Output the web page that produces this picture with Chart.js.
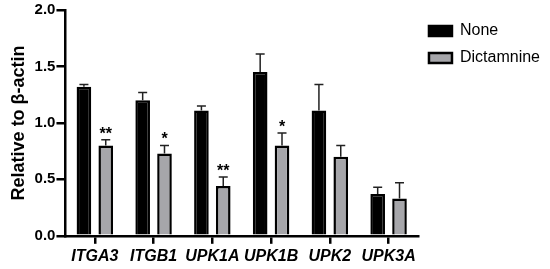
<!DOCTYPE html>
<html>
<head>
<meta charset="utf-8">
<script src="https://cdn.jsdelivr.net/npm/chart.js@4.4.0/dist/chart.umd.min.js"></script>
<style>
  html, body { margin: 0; padding: 0; background: #fff; }
  #wrap { width: 550px; height: 269px; }
</style>
</head>
<body>
<div id="wrap"><canvas id="geneChart"></canvas></div>
<script>
const genes = ['ITGA3', 'ITGB1', 'UPK1A', 'UPK1B', 'UPK2', 'UPK3A'];
const noneMean = [1.32, 1.20, 1.11, 1.45, 1.11, 0.37];
const noneErr = [0.02, 0.07, 0.04, 0.16, 0.23, 0.06];
const dictMean = [0.80, 0.73, 0.44, 0.80, 0.70, 0.33];
const dictErr = [0.05, 0.07, 0.08, 0.11, 0.10, 0.14];
const dictStars = ['**', '*', '**', '*', '', ''];
const yTicks = [0, 0.5, 1.0, 1.5, 2.0];

Chart.defaults.font.family = 'Arial, "Liberation Sans", sans-serif';
Chart.defaults.color = '#000';

// error bars (upward only) plus significance stars
const errorBars = {
    id: 'errorBars',
    afterDatasetsDraw(chart) {
        const ctx = chart.ctx;
        const yScale = chart.scales.y;
        chart.data.datasets.forEach((ds, di) => {
            const meta = chart.getDatasetMeta(di);
            meta.data.forEach((bar, i) => {
                const top = yScale.getPixelForValue(ds.data[i] + ds.errors[i]);
                ctx.save();
                ctx.strokeStyle = '#222';
                ctx.lineWidth = 1.5;
                ctx.beginPath();
                ctx.moveTo(bar.x, bar.y);
                ctx.lineTo(bar.x, top);
                ctx.moveTo(bar.x - 4.5, top);
                ctx.lineTo(bar.x + 4.5, top);
                ctx.stroke();
                if (ds.stars && ds.stars[i]) {
                    ctx.fillStyle = '#000';
                    ctx.font = 'bold 16px Arial, "Liberation Sans", sans-serif';
                    ctx.textAlign = 'center';
                    ctx.textBaseline = 'alphabetic';
                    ctx.fillText(ds.stars[i], bar.x, top - 1);
                }
                ctx.restore();
            });
        });
    }
};

new Chart(document.getElementById('geneChart'), {
    type: 'bar',
    data: {
        labels: genes,
        datasets: [
            {
                label: 'None',
                data: noneMean,
                errors: noneErr,
                backgroundColor: '#000',
                borderColor: '#000',
                borderWidth: 2.5,
                categoryPercentage: 0.743,
                barPercentage: 0.67
            },
            {
                label: 'Dictamnine',
                data: dictMean,
                errors: dictErr,
                stars: dictStars,
                backgroundColor: '#a6a6aa',
                borderColor: '#000',
                borderWidth: 2.5,
                categoryPercentage: 0.743,
                barPercentage: 0.67
            }
        ]
    },
    options: {
        responsive: true,
        maintainAspectRatio: false,
        animation: false,
        layout: { padding: { left: 4, top: 6, right: 0, bottom: 0 } },
        scales: {
            x: {
                grid: {
                    offset: false,
                    drawOnChartArea: false,
                    color: '#000',
                    lineWidth: 2.5,
                    tickLength: 8
                },
                border: { color: '#000', width: 2.5 },
                ticks: {
                    padding: 3,
                    maxRotation: 0,
                    font: { size: 16, weight: 'bold', style: 'italic' }
                }
            },
            y: {
                min: 0,
                max: 2,
                afterBuildTicks: (axis) => { axis.ticks = yTicks.map(v => ({ value: v })); },
                grid: {
                    drawOnChartArea: false,
                    color: '#000',
                    lineWidth: 2.5,
                    tickLength: 9
                },
                border: { color: '#000', width: 2.5 },
                ticks: {
                    padding: 1,
                    font: { size: 15, weight: 'bold' },
                    callback: (v) => Number(v).toFixed(1)
                },
                title: {
                    display: true,
                    text: 'Relative to β-actin',
                    font: { size: 18, weight: 'bold' }
                }
            }
        },
        plugins: {
            legend: {
                position: 'right',
                align: 'start',
                title: { display: true, text: '', font: { size: 5 }, padding: 0 },
                labels: {
                    boxWidth: 23,
                    boxHeight: 10,
                    padding: 11,
                    font: { size: 16 }
                }
            },
            tooltip: { enabled: false }
        }
    },
    plugins: [errorBars]
});
</script>
</body>
</html>
